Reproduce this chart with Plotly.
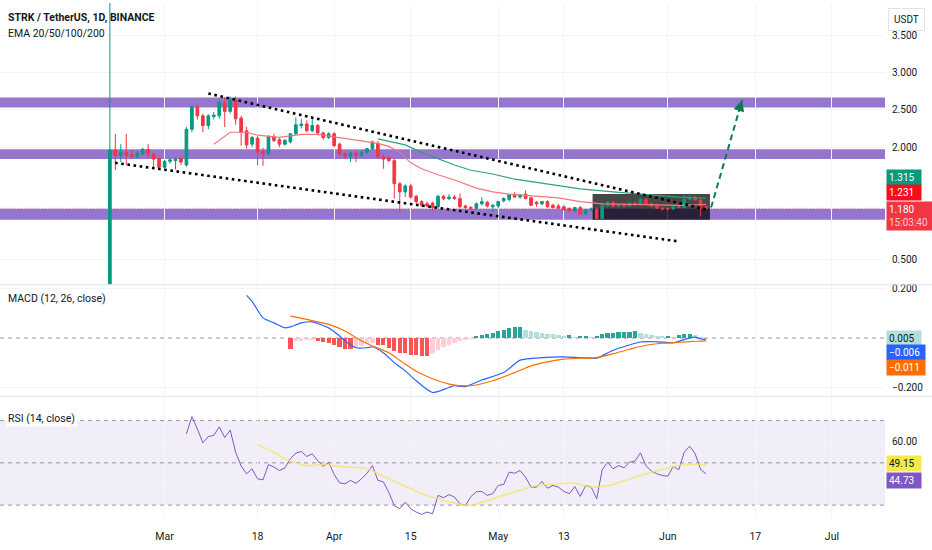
import plotly.graph_objects as go
import pandas as pd

# ---------------- data ----------------
candle_start = "2024-02-20"
opens = [0.10, 1.96, 1.89, 1.93, 1.90, 1.87, 1.91, 1.97, 1.91, 1.85,
         1.73, 1.81, 1.82, 1.85, 1.76, 2.24, 2.54, 2.42, 2.29, 2.41,
         2.42, 2.59, 2.48, 2.63, 2.39, 2.22, 2.04, 2.12, 1.94, 1.91,
         2.14, 2.10, 2.04, 2.07, 2.18, 2.29, 2.31, 2.22, 2.29, 2.19, 2.13,
         2.18, 2.04, 1.91, 1.88, 1.92, 1.89, 1.93, 1.98, 2.05, 1.87,
         1.86, 1.82, 1.51, 1.40, 1.48, 1.34, 1.27, 1.24, 1.25, 1.20,
         1.34, 1.31, 1.33, 1.31, 1.21, 1.19, 1.18, 1.24, 1.26, 1.20,
         1.21, 1.28, 1.30, 1.36, 1.33, 1.37, 1.32, 1.26, 1.24, 1.27,
         1.22, 1.21, 1.20, 1.18, 1.15, 1.19, 1.11, 1.16, 1.17, 1.04,
         1.22, 1.26, 1.21, 1.23, 1.21, 1.25, 1.23, 1.30, 1.24, 1.21, 1.18,
         1.18, 1.17, 1.20, 1.19, 1.30, 1.33, 1.29, 1.20]
highs = [4.40, 2.18, 2.04, 2.18, 1.96, 1.95, 1.99, 2.04, 1.93, 1.87,
         1.83, 1.85, 1.86, 1.87, 2.27, 2.56, 2.57, 2.45, 2.44, 2.47,
         2.64, 2.67, 2.68, 2.68, 2.42, 2.27, 2.15, 2.15, 1.99, 2.16,
         2.18, 2.12, 2.11, 2.19, 2.40, 2.38, 2.36, 2.38, 2.31, 2.21, 2.20,
         2.20, 2.06, 1.94, 1.94, 1.95, 1.95, 1.99, 2.09, 2.08, 1.90,
         1.88, 1.85, 1.53, 1.50, 1.51, 1.36, 1.29, 1.27, 1.27, 1.36,
         1.36, 1.37, 1.36, 1.38, 1.23, 1.21, 1.26, 1.33, 1.28, 1.24,
         1.28, 1.33, 1.37, 1.40, 1.37, 1.42, 1.34, 1.28, 1.28, 1.29,
         1.24, 1.24, 1.22, 1.19, 1.20, 1.21, 1.17, 1.19, 1.19, 1.26,
         1.28, 1.28, 1.25, 1.25, 1.26, 1.27, 1.32, 1.32, 1.26, 1.23, 1.20,
         1.19, 1.21, 1.22, 1.36, 1.38, 1.35, 1.31, 1.22]
lows = [0.10, 1.69, 1.80, 1.76, 1.85, 1.85, 1.89, 1.86, 1.71, 1.71,
        1.71, 1.78, 1.70, 1.76, 1.74, 2.20, 2.37, 2.20, 2.24, 2.37,
        2.38, 2.27, 2.45, 2.30, 2.02, 1.98, 2.00, 1.76, 1.75, 1.89,
        2.07, 2.00, 2.02, 2.05, 2.16, 2.25, 2.20, 2.20, 2.16, 2.10, 2.11,
        2.00, 1.89, 1.85, 1.80, 1.80, 1.87, 1.91, 1.96, 1.85, 1.71,
        1.80, 1.31, 1.12, 1.33, 1.31, 1.24, 1.20, 1.19, 1.15, 1.18,
        1.29, 1.29, 1.29, 1.18, 1.17, 1.16, 1.16, 1.22, 1.19, 1.13,
        1.18, 1.26, 1.27, 1.32, 1.31, 1.30, 1.21, 1.20, 1.22, 1.19,
        1.18, 1.17, 1.15, 1.13, 1.13, 1.09, 1.09, 1.14, 1.03, 1.02,
        1.19, 1.19, 1.19, 1.19, 1.20, 1.21, 1.22, 1.23, 1.20, 1.17, 1.16,
        1.16, 1.16, 1.18, 1.18, 1.28, 1.28, 1.07, 1.16]
closes = [1.96, 1.89, 1.93, 1.89, 1.87, 1.92, 1.97, 1.91, 1.84, 1.73,
          1.81, 1.83, 1.84, 1.80, 2.24, 2.54, 2.42, 2.29, 2.42, 2.43,
          2.60, 2.48, 2.63, 2.38, 2.20, 2.03, 2.13, 1.93, 1.91, 2.14,
          2.09, 2.04, 2.09, 2.18, 2.30, 2.31, 2.22, 2.29, 2.19, 2.13, 2.18,
          2.02, 1.91, 1.88, 1.92, 1.89, 1.93, 1.98, 2.07, 1.87, 1.84,
          1.82, 1.51, 1.40, 1.48, 1.33, 1.27, 1.22, 1.21, 1.19, 1.34,
          1.31, 1.33, 1.31, 1.20, 1.19, 1.18, 1.24, 1.27, 1.21, 1.22,
          1.27, 1.31, 1.36, 1.33, 1.36, 1.31, 1.22, 1.24, 1.27, 1.20,
          1.19, 1.18, 1.16, 1.15, 1.19, 1.10, 1.16, 1.17, 1.04, 1.22,
          1.26, 1.21, 1.23, 1.21, 1.25, 1.23, 1.30, 1.24, 1.21, 1.18, 1.17,
          1.17, 1.20, 1.19, 1.30, 1.33, 1.29, 1.20, 1.18]

ema20_dates = ["2024-03-10", "2024-03-13", "2024-03-16", "2024-03-18", "2024-03-22",
               "2024-03-26", "2024-03-29", "2024-04-02", "2024-04-05", "2024-04-09",
               "2024-04-11", "2024-04-13", "2024-04-15", "2024-04-17", "2024-04-20",
               "2024-04-23", "2024-04-27", "2024-04-30", "2024-05-03", "2024-05-07",
               "2024-05-12", "2024-05-16", "2024-05-20", "2024-05-28", "2024-06-03",
               "2024-06-08"]
ema20_vals = [2.04, 2.20, 2.20, 2.16, 2.13, 2.17, 2.17, 2.13, 2.09, 2.05,
              2.01, 1.93, 1.79, 1.71, 1.63, 1.56, 1.45, 1.40, 1.37, 1.35,
              1.32, 1.27, 1.24, 1.23, 1.22, 1.231]

ema50_dates = ["2024-04-09", "2024-04-11", "2024-04-14", "2024-04-17", "2024-04-20",
               "2024-04-23", "2024-04-26", "2024-04-30", "2024-05-04", "2024-05-10",
               "2024-05-16", "2024-05-22", "2024-05-28", "2024-06-03", "2024-06-08"]
ema50_vals = [2.11, 2.08, 2.03, 1.93, 1.84, 1.76, 1.69, 1.64, 1.57, 1.51,
              1.44, 1.40, 1.36, 1.33, 1.315]

zones = [(2.533, 2.667), (1.840, 1.973), (1.027, 1.173)]
last_price = 1.180

upper_trend_dates = ["2024-03-09", "2024-06-08 09:00"]
upper_trend_vals = [2.72, 1.16]
lower_trend_dates = ["2024-02-20 23:00", "2024-06-03 05:00"]
lower_trend_vals = [1.79, 0.733]
target_dates = ["2024-06-08 22:00", "2024-06-14 14:00"]
target_vals = [1.19, 2.63]
box_dates = ["2024-05-18 06:00", "2024-06-08 17:00"]
box_vals = [1.027, 1.373]

macd_dates = ["2024-03-16", "2024-03-17", "2024-03-19", "2024-03-21", "2024-03-23",
              "2024-03-24", "2024-03-26", "2024-03-28", "2024-03-31", "2024-04-02",
              "2024-04-03", "2024-04-05", "2024-04-07", "2024-04-08", "2024-04-10",
              "2024-04-12", "2024-04-14", "2024-04-16", "2024-04-19", "2024-04-22",
              "2024-04-23", "2024-04-25", "2024-04-28", "2024-05-02", "2024-05-05",
              "2024-05-09", "2024-05-13", "2024-05-16", "2024-05-19", "2024-05-22",
              "2024-05-27", "2024-05-30", "2024-06-02", "2024-06-05", "2024-06-06",
              "2024-06-07", "2024-06-08"]
macd_vals = [0.172, 0.148, 0.081, 0.061, 0.041, 0.045, 0.061, 0.065, 0.041, 0.008,
             -0.012, -0.039, -0.039, -0.035, -0.059, -0.099, -0.132, -0.172, -0.219, -0.199,
             -0.192, -0.195, -0.169, -0.139, -0.089, -0.079, -0.076, -0.079, -0.081, -0.049,
             -0.016, -0.015, -0.019, 0.001, 0.004, -0.003, -0.006]

signal_dates = ["2024-03-24", "2024-03-27", "2024-03-29", "2024-03-31", "2024-04-03",
                "2024-04-06", "2024-04-08", "2024-04-11", "2024-04-14", "2024-04-17",
                "2024-04-20", "2024-04-22", "2024-04-26", "2024-04-30", "2024-05-04",
                "2024-05-07", "2024-05-10", "2024-05-13", "2024-05-16", "2024-05-19",
                "2024-05-22", "2024-05-25", "2024-05-28", "2024-05-31", "2024-06-03",
                "2024-06-06", "2024-06-08"]
signal_vals = [0.088, 0.075, 0.065, 0.055, 0.028, -0.012, -0.032, -0.059, -0.105, -0.145,
               -0.172, -0.185, -0.192, -0.172, -0.139, -0.112, -0.096, -0.085, -0.081, -0.079,
               -0.063, -0.045, -0.029, -0.021, -0.017, -0.013, -0.011]

hist_start = "2024-03-24"
hist_vals = [-0.043, -0.013, -0.011, -0.008, -0.007, -0.013, -0.017, -0.018,
             -0.027, -0.036, -0.043, -0.044, -0.040, -0.033, -0.024, -0.020, -0.027, -0.028,
             -0.040, -0.053, -0.060, -0.061, -0.067, -0.069, -0.072, -0.073, -0.060, -0.047,
             -0.037, -0.027, -0.020, -0.013, -0.008, -0.004, 0.007, 0.013, 0.017, 0.020,
             0.027, 0.033, 0.040, 0.043, 0.044, 0.033, 0.027, 0.024, 0.020, 0.017,
             0.016, 0.013, 0.010, 0.011, 0.005, 0.008, 0.009, 0.003, 0.009, 0.016,
             0.020, 0.021, 0.023, 0.024, 0.025, 0.027, 0.020, 0.016, 0.012, 0.009, 0.007,
             0.008, 0.005, 0.011, 0.016, 0.017, 0.011, 0.006, 0.005]

rsi_start = "2024-03-05"
rsi_vals = [63.7, 71.9, 66.0, 59.5, 62.4, 63.0, 67.0, 62.0, 65.5, 55.0,
            48.5, 44.8, 47.2, 42.4, 42.0, 49.2, 48.0, 46.4, 47.6, 52.0,
            54.6, 55.4, 53.0, 54.3, 51.0, 48.3, 50.3, 44.5, 40.5, 40.1,
            41.7, 40.3, 42.5, 45.0, 48.7, 41.7, 41.0, 36.0, 29.8, 28.3,
            31.4, 28.3, 26.7, 25.6, 26.7, 25.9, 34.6, 33.5, 35.0, 33.8,
            30.6, 29.8, 34.0, 36.3, 36.5, 34.6, 35.4, 39.3, 39.8, 45.6,
            45.1, 46.4, 43.2, 38.5, 38.5, 41.2, 38.0, 39.3, 38.5, 36.5,
            35.4, 38.8, 34.1, 39.3, 38.5, 33.0, 46.7, 50.3, 47.2, 48.7,
            47.6, 50.3, 50.8, 54.7, 48.7, 46.1, 44.8, 44.0, 43.7, 48.3,
            46.7, 55.0, 57.9, 54.3, 46.9, 44.73]

rsima_dates = ["2024-03-18", "2024-03-21", "2024-03-23", "2024-03-27", "2024-03-30",
               "2024-04-02", "2024-04-07", "2024-04-09", "2024-04-13", "2024-04-17",
               "2024-04-20", "2024-04-23", "2024-04-26", "2024-04-28", "2024-05-02",
               "2024-05-05", "2024-05-08", "2024-05-12", "2024-05-15", "2024-05-18",
               "2024-05-22", "2024-05-25", "2024-05-29", "2024-06-01", "2024-06-04",
               "2024-06-08"]
rsima_vals = [58.5, 55.0, 51.9, 48.7, 49.2, 48.3, 47.2, 44.8, 40.1, 35.4,
              33.0, 30.9, 29.8, 31.4, 34.6, 37.0, 39.3, 40.1, 40.4, 38.5,
              39.8, 42.4, 45.6, 47.6, 49.2, 49.15]

x_tick_dates = ["2024-03-01", "2024-03-18", "2024-04-01", "2024-04-15", "2024-05-01",
                "2024-05-13", "2024-06-01", "2024-06-17", "2024-07-01"]
x_tick_text = ["Mar", "18", "Apr", "15", "May", "13", "Jun", "17", "Jul"]

price_ticks = [0.5, 2.0, 2.5, 3.0, 3.5]
macd_ticks = [-0.2, 0.2]
rsi_ticks = [40, 60]

# ---------------- styling ----------------
UP = "#089981"
DN = "#f23645"
FONT = "Roboto"
TXT = "#131722"
W, H = 932, 550
ML, MR, MT, MB = 0, 47, 0, 32
PH = H - MT - MB  # plot height in px


def py(pix):  # pixel row -> paper y
    return (PH - (pix - MT)) / PH


dates = pd.date_range(candle_start, periods=len(closes), freq="D")
hist_dates = pd.date_range(hist_start, periods=len(hist_vals), freq="D")
rsi_dates = pd.date_range(rsi_start, periods=len(rsi_vals), freq="D")

hist_colors = []
for i, v in enumerate(hist_vals):
    prev = hist_vals[i - 1] if i > 0 else v
    if v >= 0:
        hist_colors.append("#26a69a" if v > prev else "#b2dfdb")
    else:
        hist_colors.append("#ffcdd2" if v > prev else "#ff5252")

fig = go.Figure()

# price pane
fig.add_trace(go.Candlestick(
    x=dates, open=opens, high=highs, low=lows, close=closes,
    increasing=dict(line=dict(color=UP, width=1), fillcolor=UP),
    decreasing=dict(line=dict(color=DN, width=1), fillcolor=DN),
    whiskerwidth=0, showlegend=False, hoverinfo="skip", xaxis="x", yaxis="y"))
fig.add_trace(go.Scatter(x=ema20_dates, y=ema20_vals, mode="lines",
                         line=dict(color="#f4767c", width=1.2), xaxis="x", yaxis="y",
                         showlegend=False, hoverinfo="skip"))
fig.add_trace(go.Scatter(x=ema50_dates, y=ema50_vals, mode="lines",
                         line=dict(color="#2ea37f", width=1.2), xaxis="x", yaxis="y",
                         showlegend=False, hoverinfo="skip"))
for dx, dy in [(upper_trend_dates, upper_trend_vals), (lower_trend_dates, lower_trend_vals)]:
    fig.add_trace(go.Scatter(x=dx, y=dy, mode="lines",
                             line=dict(color="#000000", width=2.6, dash="2.6px,3.6px"),
                             xaxis="x", yaxis="y", showlegend=False, hoverinfo="skip"))
fig.add_trace(go.Scatter(x=target_dates, y=target_vals, mode="lines",
                         line=dict(color="#0e7a55", width=2, dash="6px,4px"),
                         xaxis="x", yaxis="y", showlegend=False, hoverinfo="skip"))

# MACD pane
fig.add_trace(go.Bar(x=hist_dates, y=hist_vals, marker=dict(color=hist_colors, line=dict(width=0)),
                     width=0.78 * 86400000, xaxis="x2", yaxis="y2",
                     showlegend=False, hoverinfo="skip"))
fig.add_trace(go.Scatter(x=macd_dates, y=macd_vals, mode="lines",
                         line=dict(color="#2962ff", width=1.2, shape="spline", smoothing=0.6),
                         xaxis="x2", yaxis="y2", showlegend=False, hoverinfo="skip"))
fig.add_trace(go.Scatter(x=signal_dates, y=signal_vals, mode="lines",
                         line=dict(color="#ff6d00", width=1.2, shape="spline", smoothing=0.8),
                         xaxis="x2", yaxis="y2", showlegend=False, hoverinfo="skip"))

# RSI pane
fig.add_trace(go.Scatter(x=rsi_dates, y=rsi_vals, mode="lines",
                         line=dict(color="#7e57c2", width=1),
                         xaxis="x3", yaxis="y3", showlegend=False, hoverinfo="skip"))
fig.add_trace(go.Scatter(x=rsima_dates, y=rsima_vals, mode="lines",
                         line=dict(color="rgba(245,228,90,0.75)", width=1.6, shape="spline", smoothing=0.8),
                         xaxis="x3", yaxis="y3", showlegend=False, hoverinfo="skip"))

shapes = []
for lo, hi in zones:
    shapes.append(dict(type="rect", xref="paper", x0=0, x1=1, yref="y", y0=lo, y1=hi,
                       fillcolor="rgba(126,87,194,0.82)", line=dict(width=0), layer="between"))
shapes.append(dict(type="rect", xref="x", x0=box_dates[0], x1=box_dates[1], yref="y",
                   y0=box_vals[0], y1=box_vals[1], fillcolor="rgba(0,0,0,0.72)",
                   line=dict(width=0), layer="between"))
shapes.append(dict(type="line", xref="paper", x0=0, x1=1, yref="y", y0=last_price, y1=last_price,
                   line=dict(color="rgba(242,54,69,0.45)", width=1, dash="1px,2px"), layer="between"))
# MACD zero line
shapes.append(dict(type="line", xref="paper", x0=0, x1=1, yref="y2", y0=0, y1=0,
                   line=dict(color="#9598a1", width=1, dash="4px,4px"), layer="between"))
# RSI band and levels
shapes.append(dict(type="rect", xref="paper", x0=0, x1=1, yref="y3", y0=30, y1=70,
                   fillcolor="rgba(126,87,194,0.10)", line=dict(width=0), layer="below"))
for lvl in (70, 50, 30):
    shapes.append(dict(type="line", xref="paper", x0=0, x1=1, yref="y3", y0=lvl, y1=lvl,
                       line=dict(color="#9598a1", width=1, dash="4px,4px"), layer="between"))
# pane separators
for pix in (283.5, 395.5):
    shapes.append(dict(type="line", xref="paper", x0=0, x1=W / (W - MR), yref="paper",
                       y0=py(pix), y1=py(pix), line=dict(color="#e0e3eb", width=1)))

annotations = []


def txt(text, x_pix, y_pix, size=10, bold=False, color=TXT, bg=None):
    annotations.append(dict(text=("<b>%s</b>" % text) if bold else text, xref="paper", yref="paper",
                            x=x_pix / (W - MR), y=py(y_pix), xanchor="left", yanchor="middle",
                            showarrow=False, font=dict(family=FONT, size=size, color=color),
                            bgcolor=bg))


txt("STRK / TetherUS, 1D, BINANCE", 6, 15, size=10.5, bold=True)
txt("EMA 20/50/100/200", 6, 31, size=10.5)
txt("MACD (12, 26, close)", 6, 297, size=10.5, bg="rgba(255,255,255,0.9)")
txt("RSI (14, close)", 6, 418, size=10.5, bg="rgba(255,255,255,0.9)")

annotations.append(dict(text="USDT", xref="paper", yref="paper", x=906 / (W - MR), y=py(17),
                        xanchor="center", yanchor="middle", showarrow=False,
                        font=dict(family=FONT, size=10, color=TXT), bgcolor="white",
                        bordercolor="#e0e3eb", borderwidth=1, borderpad=5))


def tag(text, y_pix, bg, fg="white", width=30):
    annotations.append(dict(text=text, xref="paper", yref="paper", x=1.0, y=py(y_pix),
                            xanchor="left", yanchor="middle", xshift=1, showarrow=False,
                            font=dict(family=FONT, size=10, color=fg), bgcolor=bg,
                            borderpad=2, width=width, align="left"))


tag("1.315", 176, UP)
tag("1.231", 191, "#f70d1a")
tag("1.180<br><span style='color:#ffc9cd'>15:03:40</span>", 214, "#f23645", width=42)
tag("0.005", 337, "#b2dfdb", fg=TXT)
tag("\u22120.006", 352, "#2962ff", width=34)
tag("\u22120.011", 367, "#ff6d00", width=34)
tag("49.15", 463, "#f5e94a", fg=TXT)
tag("44.73", 480, "#7e57c2")

# arrowhead of the target line
annotations.append(dict(x=target_dates[1], y=target_vals[1], xref="x", yref="y",
                        ax=-4, ay=13, axref="pixel", ayref="pixel", showarrow=True,
                        arrowhead=2, arrowsize=1.1, arrowwidth=2, arrowcolor="#0e7a55",
                        text="", standoff=0))

xr = ["2024-01-30 22:00", "2024-07-10 17:00"]
common_x = dict(type="date", range=xr, showgrid=True, gridcolor="#f3f4f7", zeroline=False,
                showline=False, tickvals=x_tick_dates, ticktext=x_tick_text, ticks="")
yaxis_common = dict(side="right", showgrid=True, gridcolor="#f3f4f7", zeroline=False,
                    ticks="", tickfont=dict(family=FONT, size=10, color=TXT),
                    showline=False, fixedrange=True, ticklabelstandoff=6)

fig.update_layout(
    width=W, height=H, margin=dict(l=ML, r=MR, t=MT, b=MB),
    paper_bgcolor="white", plot_bgcolor="white", bargap=0,
    xaxis=dict(common_x, domain=[0, 1], anchor="y", showticklabels=False,
               rangeslider=dict(visible=False)),
    xaxis2=dict(common_x, domain=[0, 1], anchor="y2", matches="x", showticklabels=False),
    xaxis3=dict(common_x, domain=[0, 1], anchor="y3", matches="x", showticklabels=True,
                tickfont=dict(family=FONT, size=10.5, color=TXT), ticklabelstandoff=10),
    yaxis=dict(yaxis_common, domain=[py(283), 1], range=[0.16, 3.933],
               tickvals=price_ticks, tickformat=".3f", anchor="x"),
    yaxis2=dict(yaxis_common, domain=[py(395), py(284)], range=[-0.232, 0.212],
                tickvals=macd_ticks, tickformat=".3f", anchor="x2"),
    yaxis3=dict(yaxis_common, domain=[0, py(396)], range=[23.9, 81.3],
                tickvals=rsi_ticks, tickformat=".2f", anchor="x3"),
    shapes=shapes, annotations=annotations, showlegend=False,
)

fig.write_html("out.html", config={"displayModeBar": False, "staticPlot": True},
               post_script="document.body.style.margin='0';document.body.style.overflow='hidden';")
